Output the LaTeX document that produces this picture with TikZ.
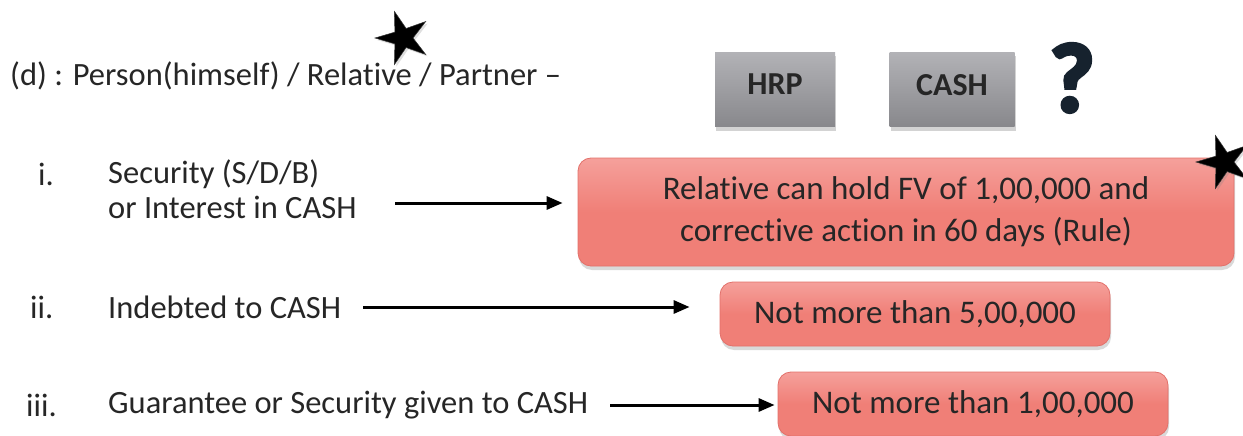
\documentclass[tikz,border=0pt]{standalone}
\usepackage{fontspec}
\setmainfont{Carlito}[Ligatures={NoCommon,NoContextual}, RawFeature={-liga;-clig;-calt;-dlig}]
\newfontfamily\heavyq[FakeBold=4]{Carlito}
\usetikzlibrary{shapes.geometric,shadows,arrows.meta}
\definecolor{ink}{RGB}{38,38,38}
\definecolor{salmon}{RGB}{240,127,119}
\definecolor{salmontop}{RGB}{245,160,155}
\definecolor{salmonedge}{RGB}{226,112,106}
\definecolor{greytop}{RGB}{178,178,182}
\definecolor{greybot}{RGB}{136,136,140}
\definecolor{qnavy}{RGB}{22,34,46}
\tikzset{
  label/.style={anchor=west, text=ink, font=\fontsize{32.5}{38}\selectfont, inner sep=0pt},
  greybox/.style={rectangle, minimum width=120pt, minimum height=74pt,
    top color=greytop, bottom color=greybot, draw=none,
    drop shadow={shadow xshift=1pt, shadow yshift=-4pt, opacity=0.35},
    text=ink, font=\fontsize{32}{36}\selectfont\bfseries},
  redbox/.style={rectangle, rounded corners=13pt, draw=salmonedge, line width=0.8pt,
    top color=salmontop, bottom color=salmon, middle color=salmon,
    drop shadow={shadow xshift=1pt, shadow yshift=-4pt, opacity=0.3},
    text=ink, font=\fontsize{33}{42}\selectfont, align=center},
  blackstar/.style={star, star points=5, star point ratio=2.8, minimum size=56pt,
    inner sep=0pt, fill=black, draw=black!80!white, line width=0.5pt,
    drop shadow={shadow xshift=2pt, shadow yshift=-2pt, opacity=0.25}},
  pointer/.style={line width=3pt, draw=black,
    -{Triangle[length=16pt,width=13pt]}},
}
\begin{document}
\begin{tikzpicture}[x=1pt,y=-1pt]
\useasboundingbox (0,0) rectangle (1243,436);

% heading line with its star
\node[label] (head) at (10,76) {(d) : Person(himself) / Relative / Partner –};
\node[blackstar, rotate=18] (star1) at (403,38) {};

% the two grey tags and the question mark
\node[greybox] (hrp) at (775,89.5) {\raisebox{11pt}{HRP}};
\node[greybox, minimum width=125pt] (cash) at (952,89.5) {\raisebox{9pt}{CASH}};
\node[text=qnavy, font=\fontsize{98}{98}\selectfont\heavyq\bfseries, inner sep=0pt] (qm) at (1072,78) {?};

% the three cases
\node[label] (n1) at (38,174) {i.};
\node[label] (t1a) at (108,174) {Security (S/D/B)};
\node[label] (t1b) at (108,207) {or Interest in CASH};
\node[label] (n2) at (30,307) {ii.};
\node[label] (t2) at (108,307) {Indebted to CASH};
\node[label] (n3) at (26,405) {iii.};
\node[label] (t3) at (108,405) {Guarantee or Security given to CASH};

% the limits
\node[redbox, minimum width=656pt, minimum height=108pt] (r1) at (906,212)
  {Relative can hold FV of 1,00,000 and\\corrective action in 60 days (Rule)};
\node[redbox, minimum width=390pt, minimum height=64pt] (r2) at (915,314) {Not more than 5,00,000};
\node[redbox, minimum width=390pt, minimum height=64pt] (r3) at (973,404) {Not more than 1,00,000};
\node[blackstar, rotate=18] (star2) at (1224,162) {};

% arrows from each case to its limit
\coordinate (a1) at (395,203);
\coordinate (a2) at (363,307);
\coordinate (a3) at (610,405);
\draw[pointer, shorten >=15pt] (a1) -- (a1 -| r1.west);
\draw[pointer, shorten >=30pt] (a2) -- (a2 -| r2.west);
\draw[pointer, shorten >=3pt] (a3) -- (a3 -| r3.west);
\end{tikzpicture}
\end{document}
